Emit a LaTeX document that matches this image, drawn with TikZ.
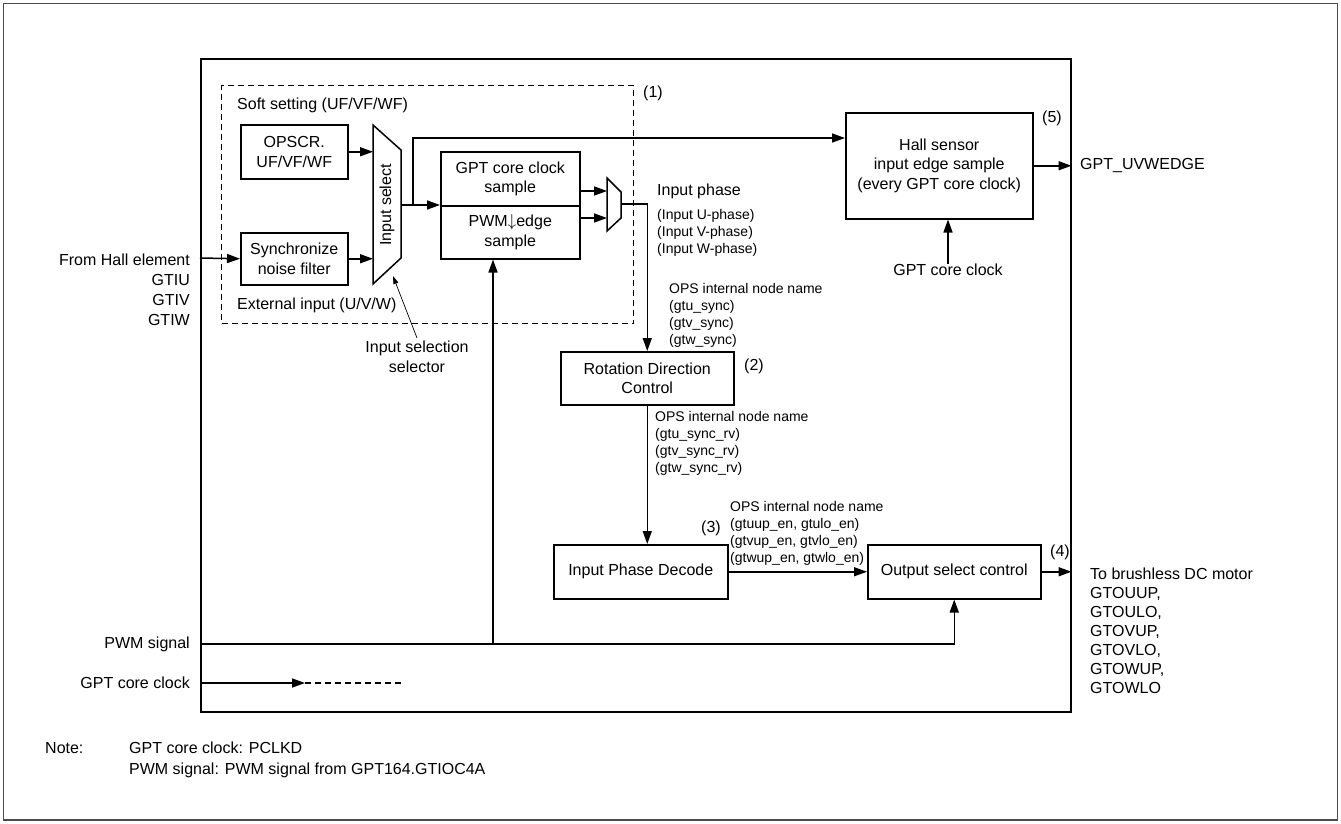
\documentclass[tikz,border=0pt]{standalone}
\usepackage{fontspec}
\setmainfont{Liberation Sans}
\usetikzlibrary{arrows.meta,positioning,calc}

\tikzset{
  blk/.style={draw, line width=1.5pt, align=center, inner sep=0pt, anchor=north west},
  sig/.style={line width=1.5pt, -{Triangle[length=13pt,width=9pt]}},
  txt/.style={inner sep=0pt, align=left},
  small/.style={txt, font=\fontsize{14}{17}\selectfont},
}

\begin{document}
\begin{tikzpicture}[x=1pt, y=-1pt, font=\fontsize{16}{19.5}\selectfont]
    \useasboundingbox (0,0) rectangle (1341,823);

    % ---- Outer frame ----
    \draw[black!70, line width=1.8pt] (3.5,3.5) rectangle (1337.5,820);
    \node[blk, minimum width=870, minimum height=653] (frame) at (200,58) {};

    % ---- (1) input selection / sampling ----
    \node[blk, line width=1.4pt, dash pattern=on 6pt off 4pt, minimum width=412, minimum height=238] (soft) at (221,85) {};
    \node[txt, anchor=west] (n1) at (643,93) {(1)};
    \node[txt, anchor=west] (softlbl) at (237,105) {Soft setting (UF/VF/WF)};
    \node[txt, anchor=west] (extlbl) at (237,305) {External input (U/V/W)};

    \node[blk, minimum width=107, minimum height=54] (opscr) at (240,124) {OPSCR.\\UF/VF/WF};
    \node[blk, minimum width=107, minimum height=52] (sync) at (240,232) {Synchronize\\noise filter};

    % Input select mux
    \coordinate (mux-nw) at (373,125);
    \coordinate (mux-ne) at (401,150);
    \coordinate (mux-se) at (401,258);
    \coordinate (mux-sw) at (373,284);
    \draw[line width=1.5pt] (mux-nw) -- (mux-ne) -- (mux-se) -- (mux-sw) -- cycle;
    \node[txt, rotate=90] (muxlbl) at (387,205) {Input select};
    \coordinate (muxout) at (401,205);
    \coordinate (br) at (413,205);

    \node[blk, minimum width=139, minimum height=54] (gptsmp) at (440,151) {GPT core clock\\sample};
    \node[blk, minimum width=139, minimum height=53] (pwmsmp) at (440,205) {PWM$\downarrow$edge\\sample};

    % Phase mux
    \coordinate (m2-nw) at (607,178);
    \coordinate (m2-ne) at (621,192);
    \coordinate (m2-se) at (621,218);
    \coordinate (m2-sw) at (607,231);
    \draw[line width=1.5pt] (m2-nw) -- (m2-ne) -- (m2-se) -- (m2-sw) -- cycle;
    \coordinate (m2a) at (607,191);
    \coordinate (m2b) at (607,218);
    \coordinate (m2out) at (621,204);

    \node[txt, anchor=west] (phlbl) at (657,191) {Input phase};
    \node[small, anchor=north west] (phlist) at (657,209.5) {(Input U-phase)\\(Input V-phase)\\(Input W-phase)};

    % ---- (2) rotation direction ----
    \node[blk, minimum width=173, minimum height=53] (rot) at (560,351) {Rotation Direction\\Control};
    \node[txt, anchor=west] (n2) at (744,366) {(2)};
    \node[small, anchor=north west] (ops1) at (669,283.5) {OPS internal node name\\(gtu\_sync)\\(gtv\_sync)\\(gtw\_sync)};
    \node[small, anchor=north west] (ops2) at (655,411.5) {OPS internal node name\\(gtu\_sync\_rv)\\(gtv\_sync\_rv)\\(gtw\_sync\_rv)};

    % ---- (3) decode, (4) output select ----
    \node[blk, minimum width=174, minimum height=54] (ipd) at (553,544) {Input Phase Decode};
    \node[txt, anchor=west] (n3) at (701,528) {(3)};
    \node[small, anchor=north west] (ops3) at (730,501.5) {OPS internal node name\\(gtuup\_en, gtulo\_en)\\(gtvup\_en, gtvlo\_en)\\(gtwup\_en, gtwlo\_en)};

    \node[blk, minimum width=173, minimum height=54] (osc) at (867,544) {Output select control};
    \node[txt, anchor=west] (n4) at (1050,552) {(4)};

    % ---- (5) hall edge sample ----
    \node[blk, minimum width=187, minimum height=106] (hall) at (845,112) {Hall sensor\\input edge sample\\(every GPT core clock)};
    \node[txt, anchor=west] (n5) at (1042,118) {(5)};
    \node[txt] (hclk) at (948,270) {GPT core clock};
    \node[txt, anchor=west] (edge) at (1080,165) {GPT\_UVWEDGE};

    % ---- External signals ----
    \node[txt, align=right, anchor=north east, font=\fontsize{16}{20}\selectfont] (hallsrc) at (190,254) {From Hall element\\GTIU\\GTIV\\GTIW};
    \coordinate (hin) at (200,258);
    \node[txt, anchor=east] (pwmlbl) at (190,644) {PWM signal};
    \coordinate (pwm) at (200,644);
    \coordinate (pwmbr) at (493,644);
    \node[txt, anchor=east] (clklbl) at (190,683) {GPT core clock};
    \coordinate (clk) at (200,683);
    \coordinate (clkmid) at (305,683);
    \coordinate (clkend) at (402,683);
    \node[txt, anchor=north west, font=\fontsize{16}{19}\selectfont] (motor) at (1090,568) {To brushless DC motor\\GTOUUP,\\GTOULO,\\GTOVUP,\\GTOVLO,\\GTOWUP,\\GTOWLO};

    % Input selection selector note
    \node[txt, align=center, anchor=north] (selnote) at (417,341) {Input selection\\selector};
    \coordinate (muxtip) at (393,276);

    % ---- Connectors ----
    \draw[sig] (hin) -- (sync.west);
    \draw[sig] (opscr.east) -- (opscr.east -| mux-nw);
    \draw[sig] (sync.east) -- (sync.east -| mux-sw);
    \draw[sig] (muxout) -- (pwmsmp.north west);
    \draw[sig] (br) |- (hall.west |- 0,138);
    \draw[sig] (m2a -| gptsmp.east) -- (m2a);
    \draw[sig] (m2b -| pwmsmp.east) -- (m2b);
    \draw[sig] (m2out) -| (rot.north);
    \draw[sig] (rot.south) -- (rot.south |- ipd.north);
    \draw[sig] (ipd.east) -- (osc.west);
    \draw[sig] (osc.east) -- (osc.east -| frame.east);
    \draw[sig] (hall.east) -- (hall.east -| frame.east);
    \draw[sig] (hclk.north) -- (hclk.north |- hall.south);
    \draw[sig] (pwm) -| (osc.south);
    \draw[sig] (pwmbr) -- (pwmbr |- pwmsmp.south);
    \draw[sig] (clk) -- (clkmid);
    \draw[line width=1.2pt, dash pattern=on 6pt off 4pt] (clkmid) -- (clkend);
    \draw[line width=0.7pt, -{Triangle[length=8pt,width=5pt]}] (selnote.north) ++(0,-3) -- (muxtip);

    % ---- Note ----
    \node[txt, anchor=west] (notelbl) at (45,748) {Note:};
    \node[txt, anchor=north west, font=\fontsize{16}{21}\selectfont] (notetxt) at (129,742) {GPT core clock: PCLKD\\PWM signal: PWM signal from GPT164.GTIOC4A};
\end{tikzpicture}
\end{document}
